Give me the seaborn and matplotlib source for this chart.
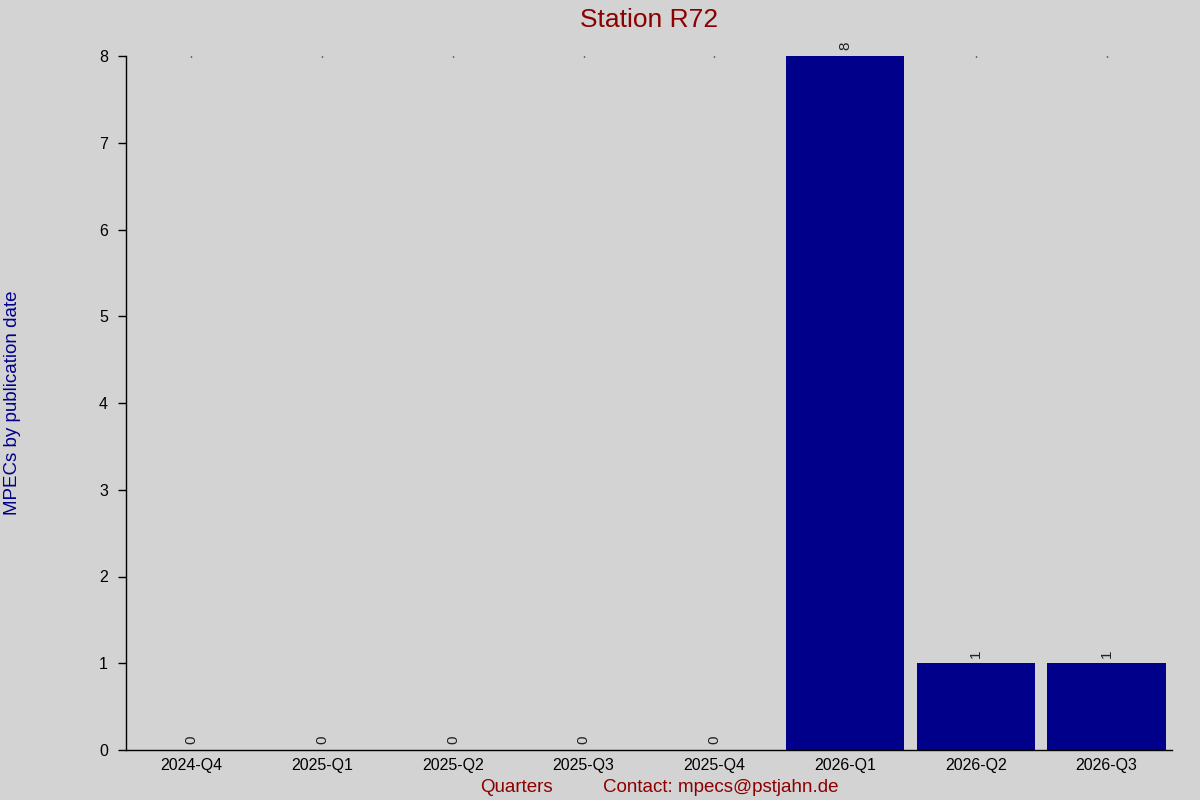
import matplotlib
matplotlib.use("Agg")
import matplotlib.pyplot as plt
import seaborn as sns
import pandas as pd

quarters = ["2024-Q4", "2025-Q1", "2025-Q2", "2025-Q3", "2025-Q4", "2026-Q1", "2026-Q2", "2026-Q3"]
counts = [0, 0, 0, 0, 0, 8, 1, 1]
title = "Station R72"
ylabel = "MPECs by publication date"
xlabel = "Quarters"
contact = "Contact: mpecs@pstjahn.de"

sns.set_theme(style="white")
plt.rcParams["font.family"] = ["Liberation Sans", "DejaVu Sans"]

bg = "#d3d3d3"
W, H = 1200, 800
ax_l, ax_r, ax_t, ax_b = 126, 1172, 56, 750
fig = plt.figure(figsize=(12, 8), dpi=100, facecolor=bg)
ax = fig.add_axes([ax_l / W, (H - ax_b) / H, (ax_r - ax_l) / W, (ax_b - ax_t) / H])
ax.set_facecolor(bg)

df = pd.DataFrame({"quarter": quarters, "count": counts})
sns.barplot(data=df, x="quarter", y="count", color="#00008b", saturation=1,
            width=0.905, ax=ax, edgecolor="none")

ax.set_xlim(-0.5, len(quarters) - 0.5)
ax.set_ylim(0, 8)
ax.set_yticks(range(0, 9))

for c in ax.containers:
    ax.bar_label(c, labels=[str(v) for v in counts], rotation=90, padding=4,
                 fontsize=11, color="#222222")

for s in ["top", "right"]:
    ax.spines[s].set_visible(False)
for s in ["left", "bottom"]:
    ax.spines[s].set_color("black")
    ax.spines[s].set_linewidth(1.0)

ax.tick_params(axis="y", left=True, direction="out", length=6, width=1,
               color="black", labelsize=11.5, labelcolor="black", pad=7)
ax.tick_params(axis="x", bottom=False, top=True, direction="in", length=1, width=1,
               color="black", labelsize=11.5, labelcolor="black", pad=6)

ax.set_title(title, color="#8b0000", fontsize=19, pad=21)
ax.set_ylabel(ylabel, color="#00008b", fontsize=13.5)
ax.yaxis.set_label_coords((21 - ax_l) / (ax_r - ax_l), 0.5)

ax.set_xlabel("")
fig.text(516.5 / W, (H - 792) / H, xlabel, color="#8b0000", fontsize=13.5,
         ha="center", va="baseline")
fig.text(603 / W, (H - 792) / H, contact, color="#8b0000", fontsize=13.5,
         ha="left", va="baseline")

fig.savefig("out.png", dpi=100, facecolor=bg)
